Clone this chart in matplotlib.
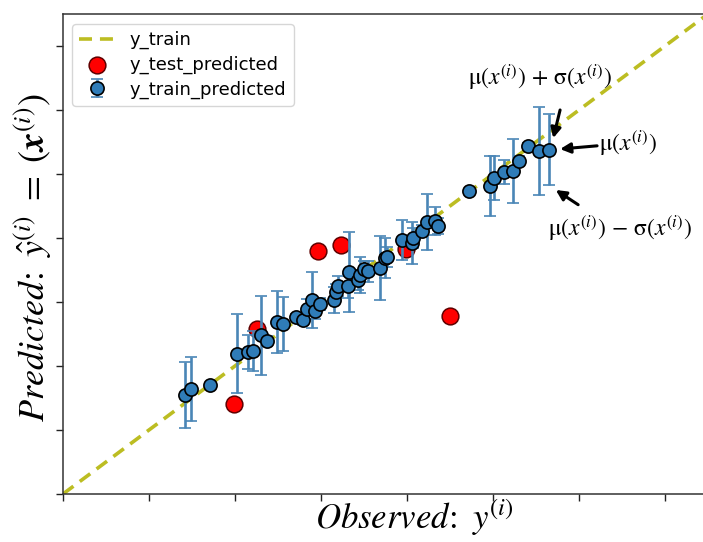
import numpy as np
import matplotlib.pyplot as plt

plt.rcParams['mathtext.fontset'] = 'stix'

# training points: observed, predicted mean, predicted std
train_obs = [1.42, 1.49, 1.71, 2.02, 2.15, 2.21, 2.30, 2.37, 2.49, 2.56,
             2.71, 2.79, 2.84, 2.90, 2.93, 2.99, 3.15, 3.17, 3.20, 3.31,
             3.33, 3.43, 3.45, 3.50, 3.55, 3.69, 3.74, 3.77, 3.94, 4.06,
             4.07, 4.17, 4.23, 4.33, 4.36, 4.72, 4.97, 5.01, 5.13, 5.23,
             5.30, 5.41, 5.54, 5.65]
train_pred = [1.55, 1.64, 1.70, 2.19, 2.22, 2.23, 2.48, 2.39, 2.69, 2.66,
              2.77, 2.72, 2.89, 3.03, 2.86, 2.97, 3.03, 3.16, 3.25, 3.25,
              3.47, 3.34, 3.42, 3.52, 3.48, 3.53, 3.69, 3.70, 3.97, 3.92,
              4.00, 4.11, 4.25, 4.27, 4.19, 4.73, 4.81, 4.94, 5.03, 5.05,
              5.20, 5.44, 5.36, 5.38]
train_std = [0.52, 0.50, 0.03, 0.62, 0.27, 0.31, 0.62, 0.08, 0.48, 0.42,
             0.05, 0.08, 0.16, 0.44, 0.12, 0.09, 0.20, 0.12, 0.16, 0.19,
             0.62, 0.16, 0.28, 0.12, 0.16, 0.50, 0.31, 0.16, 0.31, 0.33,
             0.16, 0.09, 0.44, 0.22, 0.12, 0.00, 0.47, 0.34, 0.19, 0.50,
             0.08, 0.05, 0.69, 0.55]

# test points
test_obs = [1.99, 2.26, 2.97, 3.23, 3.99, 4.50]
test_pred = [1.41, 2.58, 3.80, 3.89, 3.83, 2.78]

diag = [0, 8]

fig = plt.figure(figsize=(7.03, 5.42), dpi=100)
ax = fig.add_axes([0.0896, 0.0886, 0.9787, 0.8856])

ln, = ax.plot(diag, diag, '--', color='#bcbd22', lw=2.6, dashes=(3.6, 2.2),
              label='y_train', zorder=1)
eb = ax.errorbar(train_obs, train_pred, yerr=train_std, fmt='o',
                 color='#4682b4', ecolor='#4a86b6', elinewidth=1.9,
                 capsize=4.5, capthick=1.3, markersize=9.5,
                 markerfacecolor='#2f7cb8', markeredgecolor='black',
                 markeredgewidth=1.2, label='y_train_predicted', zorder=3)
sc = ax.scatter(test_obs, test_pred, s=145, color='red', edgecolor='#600000',
                linewidth=1.1, label='y_test_predicted', zorder=2)

ax.set_xlim(0, 8)
ax.set_ylim(0, 7.5)
ax.set_xticks(np.arange(0, 9))
ax.set_yticks(np.arange(0, 8))
ax.set_xticklabels([])
ax.set_yticklabels([])
ax.tick_params(length=5, width=1, color='#222222')
for s in ax.spines.values():
    s.set_color('#333333')
    s.set_linewidth(1.1)

ax.legend(handles=[ln, sc, eb], loc='upper left', fontsize=13,
          bbox_to_anchor=(0.0, 0.998), borderaxespad=0.5,
          handlelength=2.0, labelspacing=0.35)

fig.text(0.59, 0.008, r'$Observed\!:\ y^{(i)}$', fontsize=25,
         ha='center', va='bottom')
fig.text(0.047, 0.525, r'$Predicted\!:\ \hat{y}^{(i)}\ =\ (\mathbfit{x}^{(i)})$',
         fontsize=26, rotation=90, ha='center', va='center')

arrow = dict(arrowstyle='-|>', color='black', lw=2.2, mutation_scale=15,
             shrinkA=0, shrinkB=0)
ax.annotate('', xy=(5.70, 5.56), xytext=(5.78, 6.0), arrowprops=arrow)
ax.text(5.55, 6.52, r'$\mathrm{\mu}(x^{(i)})\,+\,\mathrm{\sigma}(x^{(i)})$',
        fontsize=17, ha='center', va='center')
ax.annotate('', xy=(5.78, 5.39), xytext=(6.21, 5.44), arrowprops=arrow)
ax.text(6.23, 5.48, r'$\mathrm{\mu}(x^{(i)})$', fontsize=17,
        ha='left', va='center')
ax.annotate('', xy=(5.73, 4.75), xytext=(5.99, 4.52), arrowprops=arrow)
ax.text(6.48, 4.16, r'$\mathrm{\mu}(x^{(i)})\,-\,\mathrm{\sigma}(x^{(i)})$',
        fontsize=17, ha='center', va='center')

fig.savefig('out.png', dpi=100)
